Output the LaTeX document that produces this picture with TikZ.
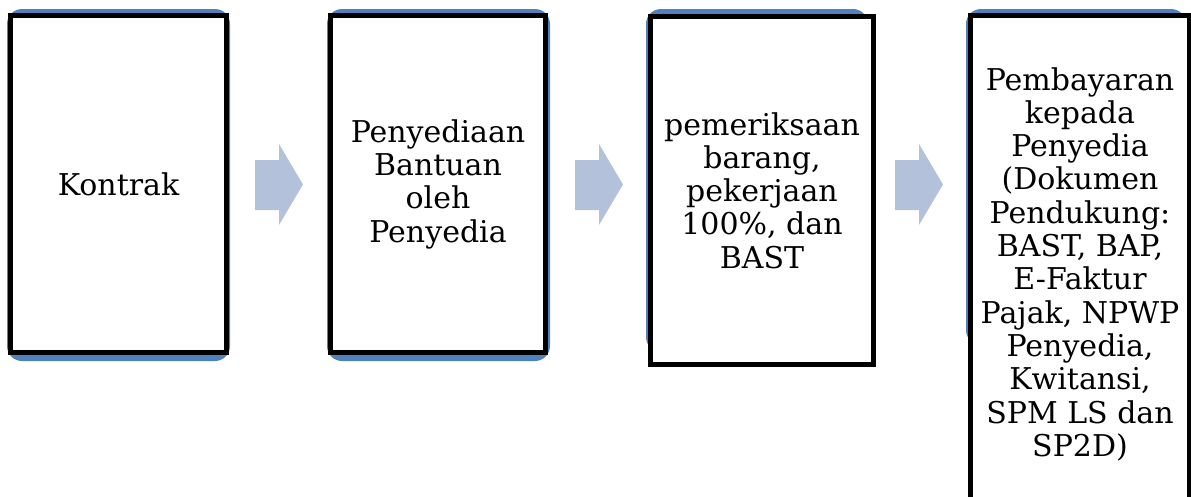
\documentclass[tikz,border=0pt]{standalone}
\usepackage{fontspec}
\setmainfont{DejaVu Serif}
\definecolor{boxblue}{RGB}{79,129,189}
\definecolor{arrowblue}{RGB}{180,193,219}
\begin{document}
\begin{tikzpicture}[x=1pt,y=-1pt,
  stepbox/.style={draw=black, line width=5pt, fill=white, inner sep=0pt, align=center,
    font=\fontsize{30}{33.3}\selectfont},
  bluebg/.style={fill=boxblue, rounded corners=15pt},
  flowarrow/.style={fill=arrowblue}]
\useasboundingbox (0,0) rectangle (1191,496);
\clip (0,0) rectangle (1191,496);
% blue backgrounds
\fill[bluebg] (7,9) rectangle (230,361);
\fill[bluebg] (327,9) rectangle (550,361);
\fill[bluebg] (646,9) rectangle (868,352);
\fill[bluebg] (966,9) rectangle (1186,345);
% boxes
\node[stepbox, minimum width=216pt, minimum height=337pt] (b1) at (118.5,184) {Kontrak};
\node[stepbox, minimum width=215pt, minimum height=337pt] (b2) at (438,184) {Penyediaan\\Bantuan\\oleh\\Penyedia};
\node[stepbox, minimum width=223pt, minimum height=348pt] (b3) at (762,190.5) {pemeriksaan\\barang,\\pekerjaan\\100\%, dan\\BAST};
\node[stepbox, minimum width=218.5pt, minimum height=504.5pt] (b4) at (1079.75,267.75) {};
\node[anchor=north, inner sep=0pt, align=center, font=\fontsize{30}{33.3}\selectfont] (t4) at (1080,67)
  {Pembayaran\\kepada\\Penyedia\\(Dokumen\\Pendukung:\\BAST, BAP,\\E-Faktur\\Pajak, NPWP\\Penyedia,\\Kwitansi,\\SPM LS dan\\SP2D)};
% arrows
\foreach \dx/\nm in {0/a1,320/a2,640/a3}{
  \fill[flowarrow] (255+\dx,160) -- (279+\dx,160) -- (279+\dx,144) -- (303+\dx,184.5)
    -- (279+\dx,225) -- (279+\dx,210) -- (255+\dx,210) -- cycle;
}
\end{tikzpicture}
\end{document}
